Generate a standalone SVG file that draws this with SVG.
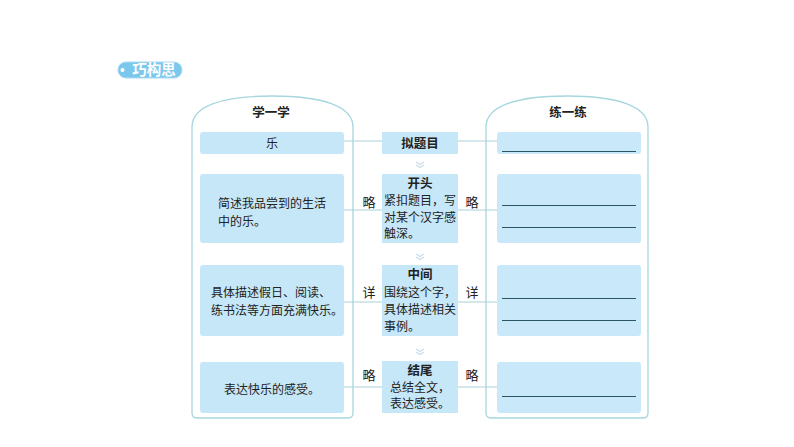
<svg xmlns="http://www.w3.org/2000/svg" width="794" height="447" viewBox="0 0 794 447">
<style>
.panel{fill:#fff;stroke:#a6d6de;stroke-width:1.3}
.box{fill:#c6e7f8}
.rbox{fill:#c9e9fa}
.t{font-family:"Noto Sans CJK SC","Noto Sans",sans-serif;font-size:12px;fill:#222}
.h{font-family:"Noto Sans CJK SC","Noto Sans",sans-serif;font-size:12.5px;font-weight:bold;fill:#222}
.lab{font-family:"Noto Sans CJK SC","Noto Sans",sans-serif;font-size:13px;fill:#222}
.conn{stroke:#a9d2da;stroke-width:1;fill:none}
.ul{stroke:#2a5660;stroke-width:1}
.chev{stroke:#c9dde8;stroke-width:1.2;fill:none}
</style>
<rect width="794" height="447" fill="#fff"/>
<g id="badge">
<rect x="118" y="62" width="64" height="16" rx="8" fill="#7cc7ec" stroke="#a9dbf2" stroke-width="1"/>
<circle cx="122.5" cy="70" r="2" fill="#fff"/>
<text x="154" y="75" text-anchor="middle" style="font-family:'Noto Sans CJK SC',sans-serif;font-size:14.5px;font-weight:bold;fill:#fff">巧构思</text>
</g>
<g id="panel-left">
<path class="panel" d="M192,413 L192,127 C192,106 222,96 272,96 C322,96 353,106 353,127 L353,413 Q353,418 348,418 L197,418 Q192,418 192,413 Z"/>
<text class="h" x="271" y="116.5" text-anchor="middle">学一学</text>
</g>
<g id="panel-right">
<path class="panel" d="M486,413 L486,127 C486,106 516,96 567,96 C617,96 648,106 648,127 L648,413 Q648,418 643,418 L491,418 Q486,418 486,413 Z"/>
<text class="h" x="568" y="116.5" text-anchor="middle">练一练</text>
</g>
<g id="connectors">
<line class="conn" x1="344" y1="141" x2="497" y2="141"/>
<line class="conn" x1="344" y1="210" x2="497" y2="210"/>
<line class="conn" x1="344" y1="302" x2="497" y2="302"/>
<line class="conn" x1="344" y1="387" x2="497" y2="387"/>
<polyline class="chev" points="416,162 420,164.5 424,162"/>
<polyline class="chev" points="416,165 420,167.5 424,165"/>
<polyline class="chev" points="416,254 420,256.5 424,254"/>
<polyline class="chev" points="416,257 420,259.5 424,257"/>
<polyline class="chev" points="416,349 420,351.5 424,349"/>
<polyline class="chev" points="416,352 420,354.5 424,352"/>
</g>
<g id="l1"><rect class="box" x="200" y="132" width="144" height="22" rx="3"/><text class="t" x="272" y="147.5" text-anchor="middle">乐</text></g>
<g id="l2"><rect class="box" x="200" y="174" width="144" height="69" rx="3"/><text class="t" x="218" y="207.5">简述我品尝到的生活</text><text class="t" x="218" y="225.5">中的乐。</text></g>
<g id="l3"><rect class="box" x="200" y="265" width="144" height="71" rx="3"/><text class="t" x="211" y="296.5">具体描述假日、阅读、</text><text class="t" x="211" y="314.5">练书法等方面充满快乐。</text></g>
<g id="l4"><rect class="box" x="200" y="362" width="144" height="51" rx="3"/><text class="t" x="272" y="393.5" text-anchor="middle">表达快乐的感受。</text></g>
<g id="m1"><rect class="box" x="382" y="132" width="76" height="22"/><text class="h" x="420" y="147.5" text-anchor="middle">拟题目</text></g>
<g id="m2"><rect class="box" x="382" y="174" width="76" height="69"/><text class="h" x="420" y="188" text-anchor="middle">开头</text><text class="t" x="384" y="205">紧扣题目，写</text><text class="t" x="384" y="221.5">对某个汉字感</text><text class="t" x="384" y="238">触深。</text></g>
<g id="m3"><rect class="box" x="382" y="265" width="76" height="71"/><text class="h" x="420" y="279" text-anchor="middle">中间</text><text class="t" x="384" y="296.5">围绕这个字，</text><text class="t" x="384" y="313.5">具体描述相关</text><text class="t" x="384" y="330.5">事例。</text></g>
<g id="m4"><rect class="box" x="382" y="361" width="76" height="52"/><text class="h" x="420" y="374.5" text-anchor="middle">结尾</text><text class="t" x="420" y="392" text-anchor="middle">总结全文，</text><text class="t" x="420" y="408" text-anchor="middle">表达感受。</text></g>
<g id="labels">
<text class="lab" x="369" y="206.5" text-anchor="middle">略</text>
<text class="lab" x="472" y="206.5" text-anchor="middle">略</text>
<text class="lab" x="369" y="296.5" text-anchor="middle">详</text>
<text class="lab" x="472" y="296.5" text-anchor="middle">详</text>
<text class="lab" x="369" y="379.5" text-anchor="middle">略</text>
<text class="lab" x="472" y="379.5" text-anchor="middle">略</text>
</g>
<g id="r1"><rect class="rbox" x="497" y="132" width="144" height="22" rx="3"/><line class="ul" x1="502" y1="151.5" x2="636" y2="151.5"/></g>
<g id="r2"><rect class="rbox" x="497" y="174" width="144" height="69" rx="3"/><line class="ul" x1="502" y1="205.5" x2="636" y2="205.5"/><line class="ul" x1="502" y1="227.5" x2="636" y2="227.5"/></g>
<g id="r3"><rect class="rbox" x="497" y="265" width="144" height="71" rx="3"/><line class="ul" x1="502" y1="298.5" x2="636" y2="298.5"/><line class="ul" x1="502" y1="320.5" x2="636" y2="320.5"/></g>
<g id="r4"><rect class="rbox" x="497" y="362" width="144" height="51" rx="3"/><line class="ul" x1="502" y1="396.5" x2="636" y2="396.5"/></g>
</svg>
